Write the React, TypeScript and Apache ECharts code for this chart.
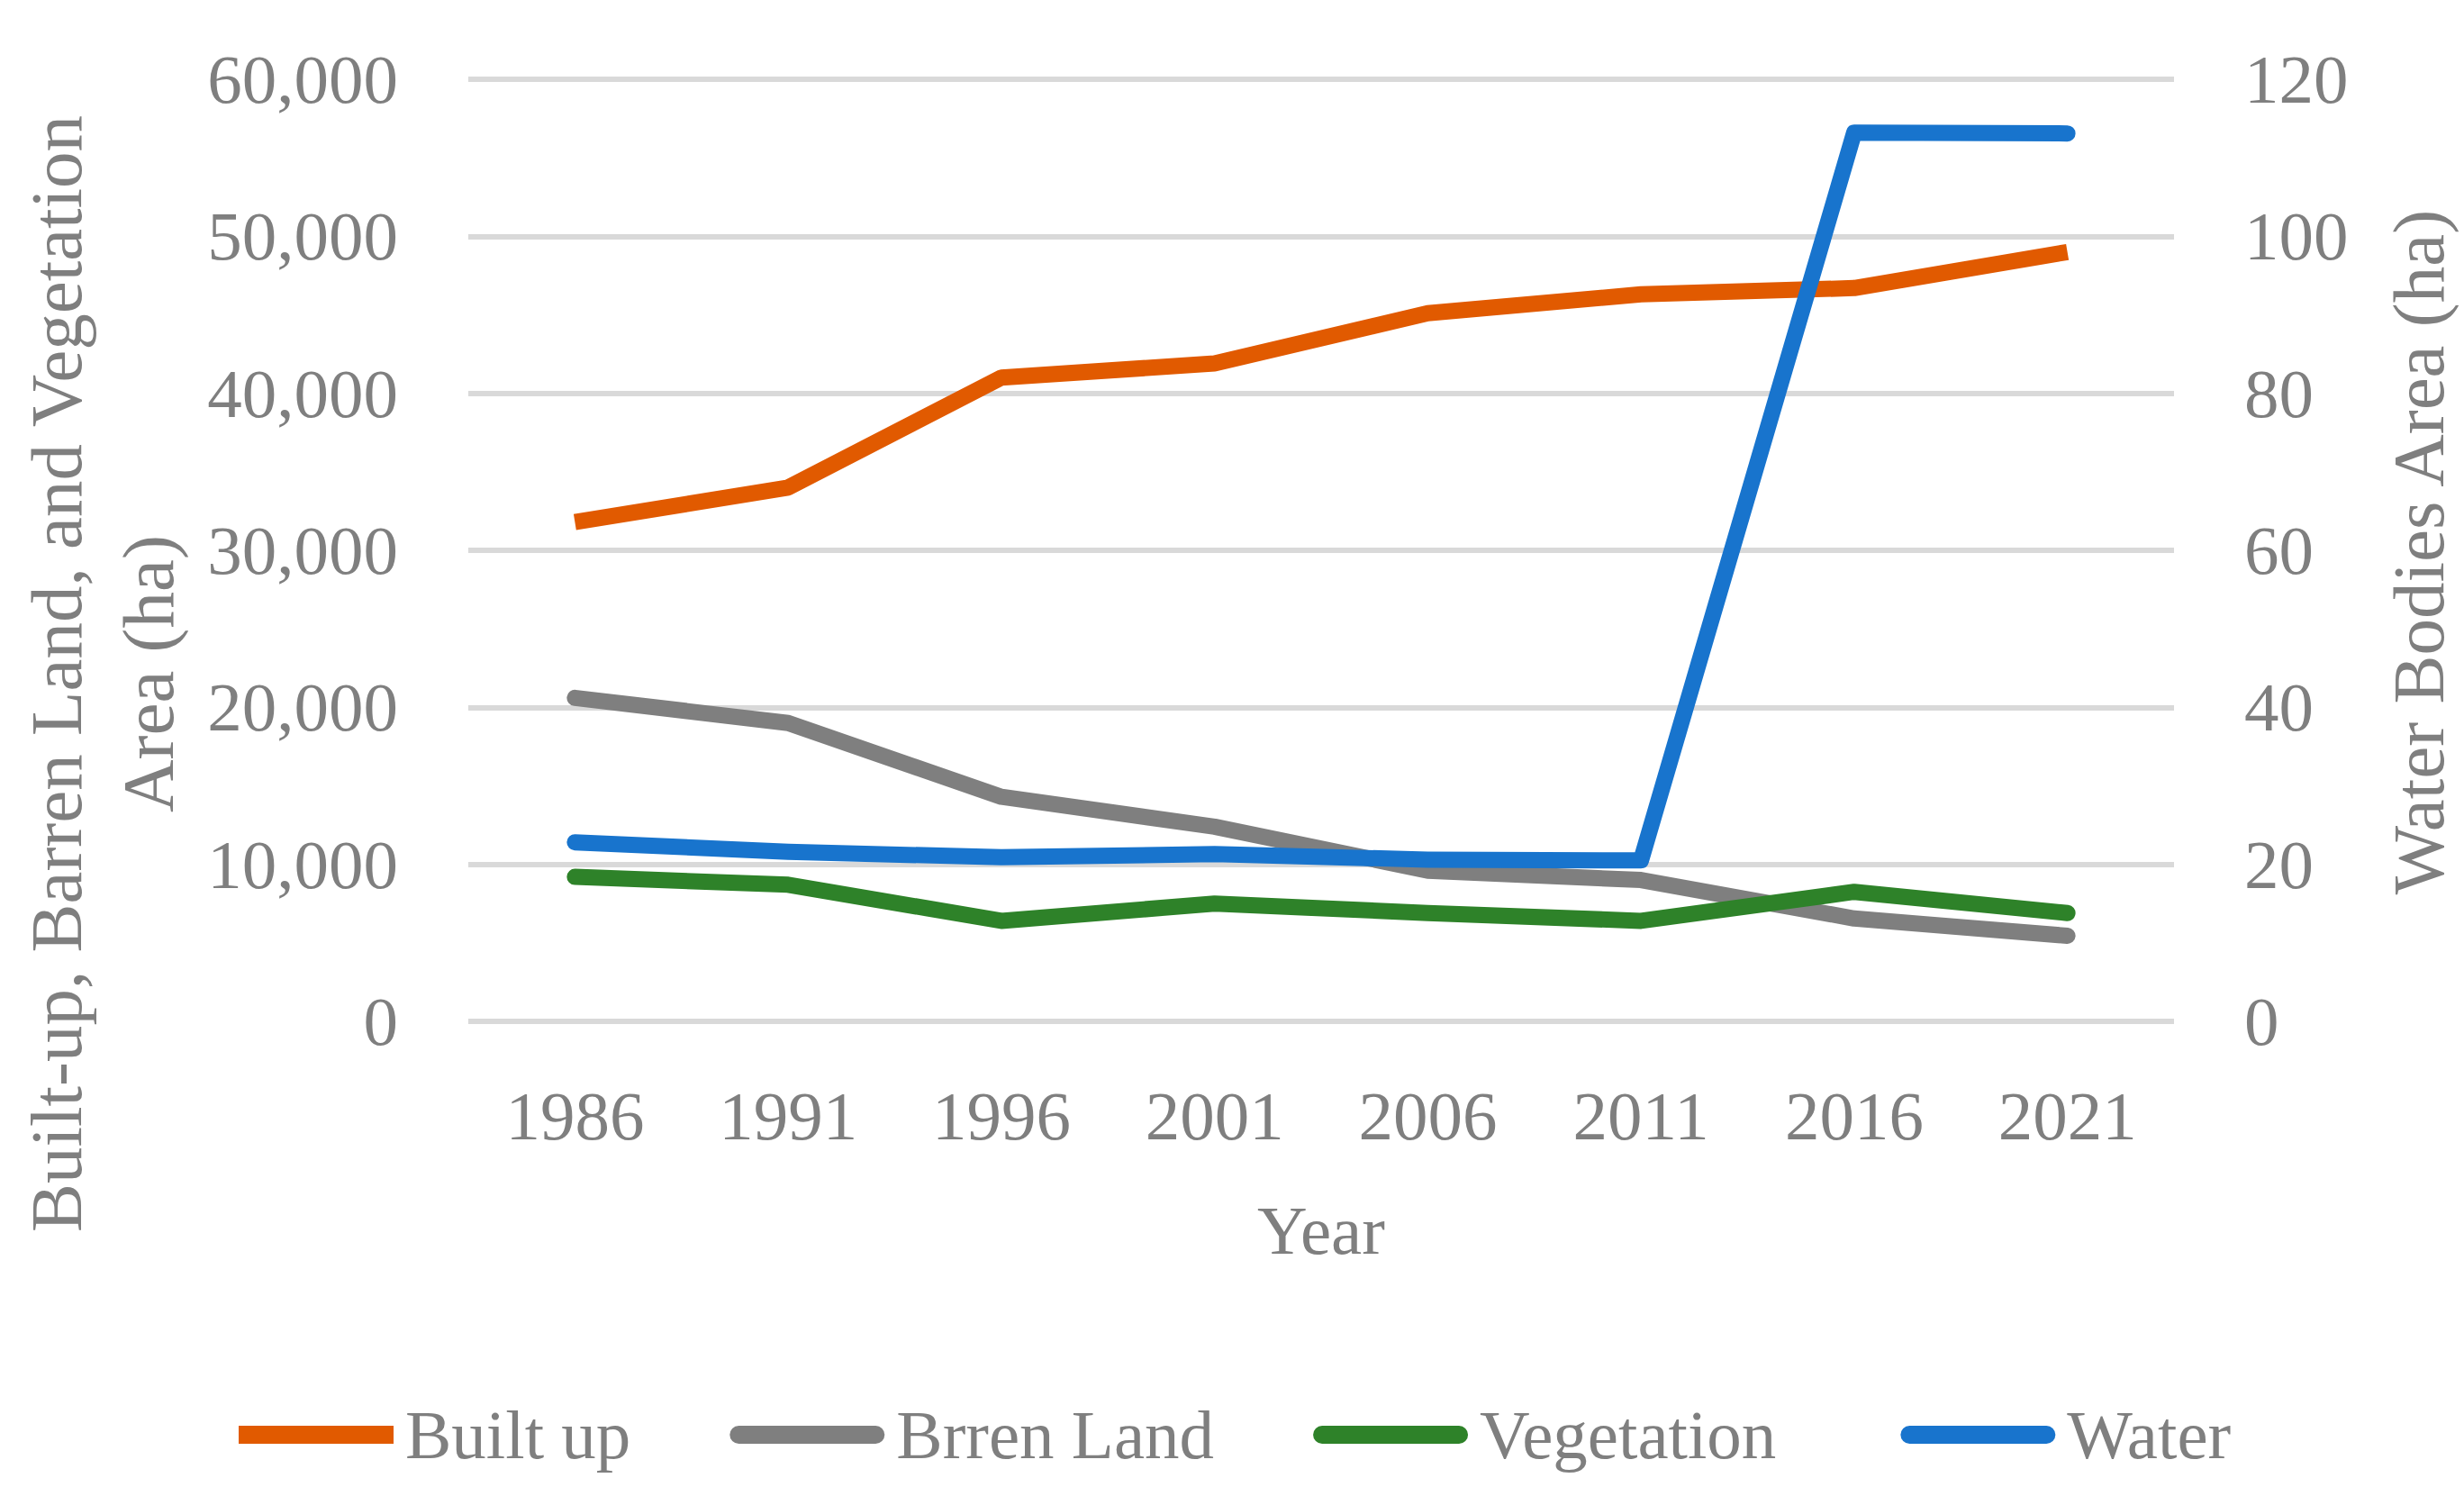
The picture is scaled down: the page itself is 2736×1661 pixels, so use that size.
import React, { useEffect, useRef } from "react";
import * as echarts from "echarts";

const categories = ["1986", "1991", "1996", "2001", "2006", "2011", "2016", "2021"];
const builtUp = [31800, 34000, 41000, 41900, 45100, 46300, 46700, 49000];
const barrenLand = [20600, 19000, 14300, 12400, 9600, 9000, 6550, 5450];
const vegetation = [9200, 8700, 6400, 7500, 6900, 6400, 8250, 6900];
const water = [22.8, 21.6, 20.9, 21.3, 20.6, 20.5, 113.2, 113.1];

const seriesNames = ["Built up", "Brren Land", "Vegetation", "Water"];
const colors = ["#e15a00", "#7f7f7f", "#2e8229", "#1874cd"];

const leftTitle = "Built-up, Barren Land, and Vegetation\nArea (ha)";
const rightTitle = "Water Bodies Area (ha)";
const xTitle = "Year";

const FONT = "'Liberation Serif', 'Times New Roman', serif";
const FS = 77;
const TFS = 81;
const TXT = "#7f7f7f";
const PILL = "path://M10,0L162,0A10,10,0,0,1,162,20L10,20A10,10,0,0,1,10,0Z";

export default function App() {
  const ref = useRef<HTMLDivElement>(null);
  useEffect(() => {
    if (!ref.current) return;
    const chart = echarts.init(ref.current, null, { renderer: "svg" });
    const fmt = (v: number) => v.toLocaleString("en-US");
    const legendText = (extra: number) => ({
      fontFamily: FONT,
      fontSize: FS,
      color: TXT,
      lineHeight: 80,
      padding: [0, extra, 0, 8],
    });
    chart.setOption({
      animation: false,
      backgroundColor: "#ffffff",
      grid: { left: 520, right: 322, top: 88, bottom: 527, containLabel: false },
      legend: {
        left: 265,
        top: 1553,
        padding: 0,
        itemWidth: 172,
        itemHeight: 20,
        itemGap: 100,
        textStyle: legendText(0),
        data: [
          { name: seriesNames[0], icon: "rect", textStyle: legendText(10) },
          { name: seriesNames[1], icon: PILL, textStyle: legendText(10) },
          { name: seriesNames[2], icon: PILL, textStyle: legendText(38) },
          { name: seriesNames[3], icon: PILL, textStyle: legendText(0) },
        ],
      },
      xAxis: {
        type: "category",
        data: categories,
        boundaryGap: true,
        axisLine: { show: false },
        axisTick: { show: false },
        axisLabel: { fontFamily: FONT, fontSize: FS, color: TXT, margin: 105, verticalAlign: "middle" },
        name: xTitle,
        nameLocation: "middle",
        nameGap: 232,
        nameTextStyle: { fontFamily: FONT, fontSize: FS, color: TXT, verticalAlign: "middle" },
      },
      yAxis: [
        {
          type: "value",
          min: 0,
          max: 60000,
          interval: 10000,
          axisLine: { show: false },
          axisTick: { show: false },
          axisLabel: { fontFamily: FONT, fontSize: FS, color: TXT, margin: 78, formatter: fmt },
          splitLine: { show: true, lineStyle: { color: "#d9d9d9", width: 6 } },
        },
        {
          type: "value",
          min: 0,
          max: 120,
          interval: 20,
          position: "right",
          axisLine: { show: false },
          axisTick: { show: false },
          axisLabel: { fontFamily: FONT, fontSize: FS, color: TXT, margin: 78 },
          splitLine: { show: false },
        },
      ],
      graphic: [
        {
          type: "text",
          x: 114,
          y: 748,
          rotation: Math.PI / 2,
          style: {
            text: leftTitle,
            align: "center",
            verticalAlign: "middle",
            fontFamily: FONT,
            fontSize: TFS,
            lineHeight: 102,
            fill: TXT,
          },
        },
        {
          type: "text",
          x: 2686,
          y: 613,
          rotation: Math.PI / 2,
          style: {
            text: rightTitle,
            align: "center",
            verticalAlign: "middle",
            fontFamily: FONT,
            fontSize: TFS,
            fill: TXT,
          },
        },
      ],
      series: [
        {
          name: seriesNames[0],
          type: "line",
          data: builtUp,
          yAxisIndex: 0,
          showSymbol: false,
          lineStyle: { color: colors[0], width: 18, cap: "butt", join: "bevel" },
          itemStyle: { color: colors[0] },
        },
        {
          name: seriesNames[1],
          type: "line",
          data: barrenLand,
          yAxisIndex: 0,
          showSymbol: false,
          lineStyle: { color: colors[1], width: 18, cap: "round", join: "round" },
          itemStyle: { color: colors[1] },
        },
        {
          name: seriesNames[2],
          type: "line",
          data: vegetation,
          yAxisIndex: 0,
          showSymbol: false,
          lineStyle: { color: colors[2], width: 18, cap: "round", join: "round" },
          itemStyle: { color: colors[2] },
        },
        {
          name: seriesNames[3],
          type: "line",
          data: water,
          yAxisIndex: 1,
          showSymbol: false,
          lineStyle: { color: colors[3], width: 18, cap: "round", join: "round" },
          itemStyle: { color: colors[3] },
        },
      ],
    });
    return () => chart.dispose();
  }, []);
  return (
    <div
      ref={ref}
      style={{ position: "fixed", left: 0, top: 0, width: 2736, height: 1661, background: "#fff" }}
    />
  );
}
